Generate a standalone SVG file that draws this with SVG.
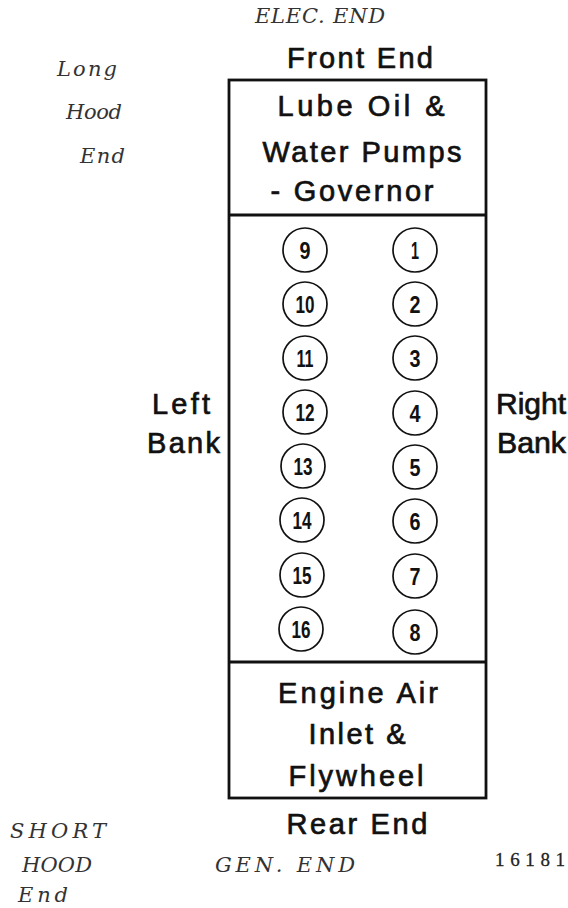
<svg xmlns="http://www.w3.org/2000/svg" width="568" height="908" viewBox="0 0 568 908">
<style>
.lbl{font-family:"Liberation Sans",Arial,sans-serif;font-size:29px;fill:#111;stroke:#111;stroke-width:0.7;text-anchor:middle}
.side{font-family:"Liberation Sans",Arial,sans-serif;font-size:29px;fill:#111;stroke:#111;stroke-width:0.7}
.hand{font-family:"DejaVu Serif","Liberation Serif",serif;font-style:italic;font-size:21px;fill:#333}
.cyl circle{fill:none;stroke:#111;stroke-width:1.7}
.cyl text{font-family:"Liberation Sans",Arial,sans-serif;font-weight:bold;font-size:24px;fill:#111;text-anchor:middle}
.box{fill:none;stroke:#111;stroke-width:2.8}
</style>
<rect width="568" height="908" fill="#fff"/>
<g id="top-note"><text class="hand" x="320" y="23" font-size="12" fill="#999" text-anchor="middle" textLength="130" lengthAdjust="spacing">ELEC. END</text></g>
<g id="front-label"><text class="lbl" x="360" y="68" textLength="146" lengthAdjust="spacing">Front End</text></g>
<g id="engine-block">
<rect class="box" x="229" y="80" width="257" height="718"/>
<line class="box" x1="229" y1="215" x2="486" y2="215"/>
<line class="box" x1="229" y1="662" x2="486" y2="662"/>
</g>
<g id="front-section">
<text class="lbl" x="361" y="116" textLength="167" lengthAdjust="spacing">Lube Oil &amp;</text>
<text class="lbl" x="362" y="162" textLength="199" lengthAdjust="spacing">Water Pumps</text>
<text class="lbl" x="352" y="201" textLength="163" lengthAdjust="spacing">- Governor</text>
</g>
<g id="rear-section">
<text class="lbl" x="358" y="703" textLength="160" lengthAdjust="spacing">Engine Air</text>
<text class="lbl" x="357" y="744" textLength="97" lengthAdjust="spacing">Inlet &amp;</text>
<text class="lbl" x="356" y="786" textLength="135" lengthAdjust="spacing">Flywheel</text>
</g>
<g id="rear-label"><text class="lbl" x="357" y="834" textLength="141" lengthAdjust="spacing">Rear End</text></g>
<g id="left-bank">
<text class="side" x="152" y="414" textLength="58" lengthAdjust="spacing">Left</text>
<text class="side" x="147" y="453" textLength="73" lengthAdjust="spacing">Bank</text>
</g>
<g id="right-bank">
<text class="side" x="496" y="414" textLength="70" lengthAdjust="spacingAndGlyphs">Right</text>
<text class="side" x="497" y="453" textLength="69" lengthAdjust="spacingAndGlyphs">Bank</text>
</g>
<g id="cylinders" class="cyl">
<g id="cyl-9"><circle cx="305" cy="250" r="22"/><text x="305" y="259" textLength="11" lengthAdjust="spacingAndGlyphs">9</text></g>
<g id="cyl-10"><circle cx="305" cy="304" r="22"/><text x="305" y="313" textLength="19" lengthAdjust="spacingAndGlyphs">10</text></g>
<g id="cyl-11"><circle cx="305" cy="358" r="22"/><text x="305" y="367" textLength="17" lengthAdjust="spacingAndGlyphs">11</text></g>
<g id="cyl-12"><circle cx="305" cy="412" r="22"/><text x="305" y="421" textLength="19" lengthAdjust="spacingAndGlyphs">12</text></g>
<g id="cyl-13"><circle cx="303" cy="466" r="22"/><text x="303" y="475" textLength="19" lengthAdjust="spacingAndGlyphs">13</text></g>
<g id="cyl-14"><circle cx="302" cy="520" r="22"/><text x="302" y="529" textLength="19" lengthAdjust="spacingAndGlyphs">14</text></g>
<g id="cyl-15"><circle cx="302" cy="575" r="22"/><text x="302" y="584" textLength="19" lengthAdjust="spacingAndGlyphs">15</text></g>
<g id="cyl-16"><circle cx="301" cy="629" r="22"/><text x="301" y="638" textLength="19" lengthAdjust="spacingAndGlyphs">16</text></g>
<g id="cyl-1"><circle cx="415" cy="250" r="22"/><text x="415" y="259" textLength="8" lengthAdjust="spacingAndGlyphs">1</text></g>
<g id="cyl-2"><circle cx="415" cy="304" r="22"/><text x="415" y="313" textLength="11" lengthAdjust="spacingAndGlyphs">2</text></g>
<g id="cyl-3"><circle cx="415" cy="358" r="22"/><text x="415" y="367" textLength="11" lengthAdjust="spacingAndGlyphs">3</text></g>
<g id="cyl-4"><circle cx="415" cy="413" r="22"/><text x="415" y="422" textLength="11" lengthAdjust="spacingAndGlyphs">4</text></g>
<g id="cyl-5"><circle cx="415" cy="467" r="22"/><text x="415" y="476" textLength="11" lengthAdjust="spacingAndGlyphs">5</text></g>
<g id="cyl-6"><circle cx="415" cy="521" r="22"/><text x="415" y="530" textLength="11" lengthAdjust="spacingAndGlyphs">6</text></g>
<g id="cyl-7"><circle cx="415" cy="576" r="22"/><text x="415" y="585" textLength="11" lengthAdjust="spacingAndGlyphs">7</text></g>
<g id="cyl-8"><circle cx="415" cy="632" r="22"/><text x="415" y="641" textLength="11" lengthAdjust="spacingAndGlyphs">8</text></g>
</g>
<g id="long-hood-note">
<text class="hand" x="57" y="76" textLength="60" lengthAdjust="spacing">Long</text>
<text class="hand" x="66" y="119" textLength="56" lengthAdjust="spacing">Hood</text>
<text class="hand" x="80" y="163" textLength="45" lengthAdjust="spacing">End</text>
</g>
<g id="short-hood-note">
<text class="hand" x="10" y="838" font-size="18" textLength="96" lengthAdjust="spacing">SHORT</text>
<text class="hand" x="22" y="872" font-size="18" textLength="70" lengthAdjust="spacing">HOOD</text>
<text class="hand" x="18" y="902" textLength="50" lengthAdjust="spacing">End</text>
</g>
<g id="gen-end-note"><text class="hand" x="215" y="872" font-size="19" textLength="140" lengthAdjust="spacing">GEN. END</text></g>
<g id="figure-number"><text x="495" y="866" font-family="Liberation Serif,serif" font-size="19" fill="#222" stroke="#222" stroke-width="0.3" textLength="70" lengthAdjust="spacing">16181</text></g>
</svg>
